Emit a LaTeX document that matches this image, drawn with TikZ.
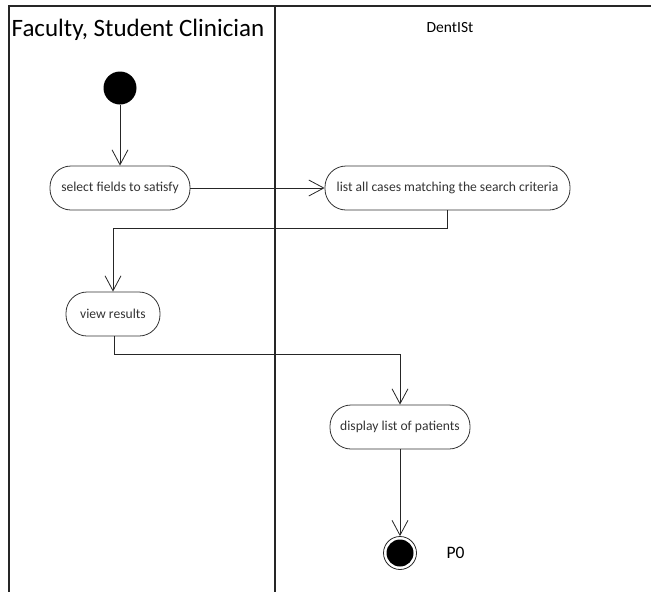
\documentclass[tikz,border=0pt]{standalone}
\usepackage{fontspec}
\setmainfont{Carlito}
\usetikzlibrary{arrows.meta}
\begin{document}
\begin{tikzpicture}[x=1pt,y=-1pt,
  action/.style={draw=black!80, line width=0.8pt, rounded corners=21pt,
    minimum height=44pt, inner xsep=6pt, font=\fontsize{13.6}{15}\selectfont, text=black!80},
  flow/.style={draw=black!85, line width=0.9pt, -{Straight Barb[length=15pt,width=16pt,line width=0.8pt]}},
  lane/.style={draw=black!85, line width=1.1pt}]
\useasboundingbox (0,0) rectangle (651,592);
% swimlane frame
\draw[lane] (9,592) -- (9,6) -- (651,6);
\draw[lane] (275,6) -- (275,592);
\node (laneA) at (138,30) {\fontsize{25}{28}\selectfont Faculty, Student Clinician};
\node (laneB) at (450,28) {\fontsize{15.5}{18}\selectfont DentISt};
% nodes
\node[circle, fill=black, minimum size=33pt, inner sep=0pt] (start) at (120,88) {};
\node[action, minimum width=140pt] (select) at (120,188) {select fields to satisfy};
\node[action, minimum width=245pt] (list) at (447.5,188) {list all cases matching the search criteria};
\node[action, minimum width=94pt] (view) at (113,314) {view results};
\node[action, minimum width=140pt] (display) at (400,427) {display list of patients};
\node[circle, draw=black!85, line width=0.8pt, minimum size=33pt, inner sep=0pt] (end) at (400,553) {};
\node[circle, fill=black, minimum size=27pt, inner sep=0pt] at (end.center) {};
\node[anchor=west, font=\fontsize{17.5}{20}\selectfont] (p0) at (443,553) {P0};
% flows
\draw[flow] (start) -- (select);
\draw[flow] (select) -- (list);
\draw[flow] (list.south) -- ++(0,18) -| (view.north);
\draw[flow] ([xshift=1pt]view.south) -- ++(0,18) -| (display.north);
\draw[flow] (display) -- (end);
\end{tikzpicture}
\end{document}
